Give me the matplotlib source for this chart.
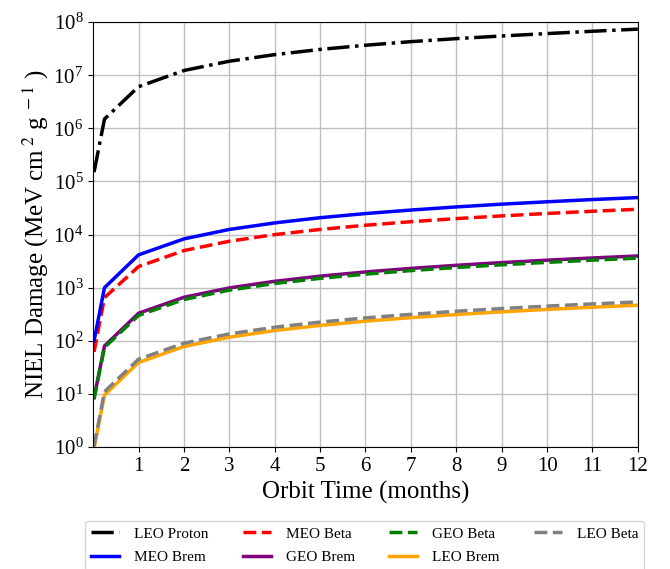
import matplotlib
matplotlib.use("Agg")
import matplotlib.pyplot as plt

plt.rcParams['font.family'] = ['Liberation Serif', 'DejaVu Serif']
plt.rcParams['mathtext.fontset'] = 'stix'

months = [0.02, 0.25, 1, 2, 3, 4, 5, 6, 7, 8, 9, 10, 11, 12]

leo_proton = [1.5e5, 1.5e6, 6.1e6, 1.23e7, 1.84e7, 2.45e7, 3.07e7, 3.68e7, 4.3e7, 4.9e7, 5.5e7, 6.1e7, 6.75e7, 7.4e7]
meo_beta = [62, 650, 2.5e3, 5.0e3, 7.5e3, 1.0e4, 1.25e4, 1.5e4, 1.75e4, 2.0e4, 2.25e4, 2.5e4, 2.75e4, 3.0e4]
geo_beta = [8, 75, 300, 600, 900, 1200, 1500, 1800, 2100, 2400, 2700, 3000, 3300, 3600]
leo_beta = [1.05, 11, 45, 90, 135, 180, 225, 270, 315, 360, 405, 450, 495, 540]
meo_brem = [100, 1000, 4.15e3, 8.3e3, 1.25e4, 1.66e4, 2.08e4, 2.49e4, 2.9e4, 3.32e4, 3.74e4, 4.15e4, 4.57e4, 4.98e4]
geo_brem = [8.5, 80, 330, 660, 990, 1320, 1650, 1980, 2310, 2640, 2970, 3300, 3630, 3960]
leo_brem = [0.95, 9.5, 39, 78, 117, 156, 195, 234, 273, 312, 351, 390, 429, 468]

xticks = list(range(1, 13))

fig = plt.figure(figsize=(6.7, 5.69), dpi=100)
ax = fig.add_axes([0.139, 0.2144, 0.813, 0.7466])

lw = 2.5
h_lp, = ax.plot(months, leo_proton, color='black', ls='-.', lw=lw, label='LEO Proton')
h_mb, = ax.plot(months, meo_beta, color='red', ls='--', lw=lw, label='MEO Beta')
h_gb, = ax.plot(months, geo_beta, color='green', ls='--', lw=lw, label='GEO Beta')
h_lb, = ax.plot(months, leo_beta, color='gray', ls='--', lw=lw, label='LEO Beta')
h_mr, = ax.plot(months, meo_brem, color='blue', ls='-', lw=lw, label='MEO Brem')
h_gr, = ax.plot(months, geo_brem, color='purple', ls='-', lw=lw, label='GEO Brem', zorder=1.9)
h_lr, = ax.plot(months, leo_brem, color='orange', ls='-', lw=lw, label='LEO Brem', zorder=1.9)

ax.set_yscale('log')
ax.set_ylim(1, 1e8)
ax.set_xlim(0, 12)
ax.set_xticks(xticks)
ax.set_yticks([10**i for i in range(9)])
ax.yaxis.set_minor_locator(matplotlib.ticker.NullLocator())
ax.grid(True, color='#c0c0c0', lw=1)
ax.set_axisbelow(True)
ax.tick_params(labelsize=15)
ax.set_xlabel('Orbit Time (months)', fontsize=18)
ax.set_ylabel('NIEL Damage (MeV cm$^{\\ 2}$ g$^{\\ -1}$ )', fontsize=18, labelpad=2)

handles = [h_lp, h_mr, h_mb, h_gr, h_gb, h_lr, h_lb]
fig.legend(handles=handles, labels=[h.get_label() for h in handles], ncol=4,
           loc='upper left', bbox_to_anchor=(0.127, 0.0844), fontsize=11,
           frameon=True, handlelength=1.85, handletextpad=0.95, columnspacing=2.25,
           labelspacing=0.65, borderaxespad=0)

fig.savefig('out.png', dpi=100)
